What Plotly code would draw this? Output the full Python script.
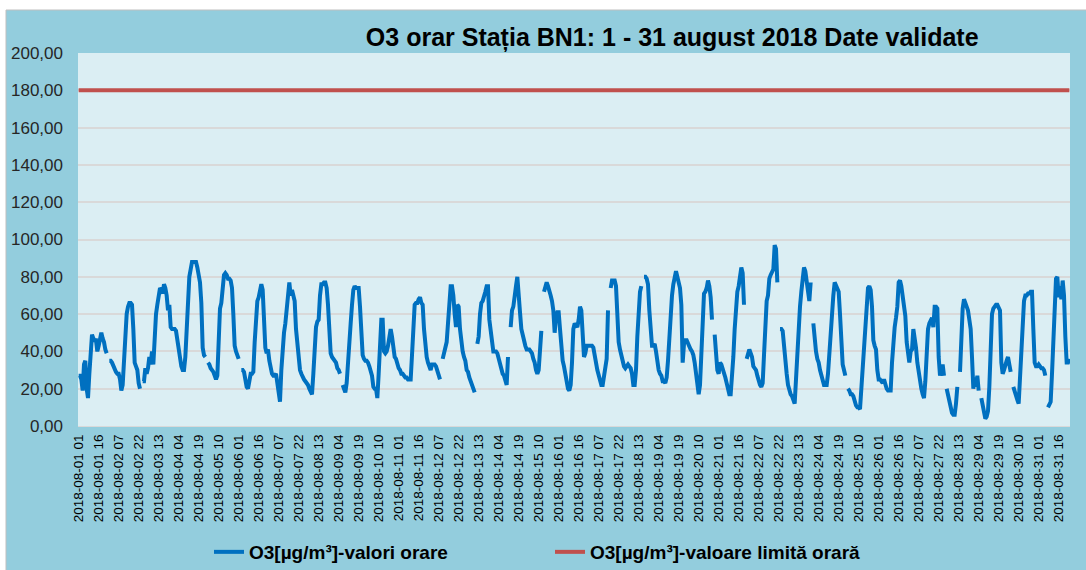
import plotly.graph_objects as go

# Hourly O3 values [µg/m³], one list per day (hours 01..24); None = missing
day01 = [27, 27, 25, 19, 33, 35, 20, 15, 28, 42, 49, 47, 46, 46, 40, 43, 48, 50, 47, 45, 41, 39, None, 35]
day02 = [35, 34, 32, 30, 29, 28, 28, 25, 19, 22, 38, 50, 60, 64, 66, 66, 65, 52, 34, 32, 30, 23, 20, None]
day03 = [24, 24, 31, 28, 31, 37, 33, 40, 33, 48, 60, 65, 72, 74, 73, 71, 76, 74, 70, 62, 65, 53, 52, 52]
day04 = [52, 51, 46, 43, 37, 32, 30, 30, 37, 52, 70, 80, 84, 88, 88, 88, 88, 85, 80, 77, 66, 42, 38, 37]
day05 = [None, 34, 33, 31, 30, 29, 27, 25, 27, 45, 63, 66, 76, 81, 82, 81, 79, 79, 78, 74, 60, 43, 40, 38]
day06 = [36, None, 30, 30, 29, 24, 21, 20, 26, 28, 28, 29, 45, 60, 67, 69, 72, 76, 73, 60, 42, 39, 41, 35]
day07 = [30, 28, 27, 27, 28, 23, 20, 13, 30, 46, 50, 55, 62, 70, 77, 70, 73, 70, 67, 52, 45, 34, 30, 28]
day08 = [26, 25, 24, 23, 22, 20, 18, 17, 28, 45, 53, 56, 57, 70, 76, 76, 77, 77, 74, 65, 45, 39, 37, 36]
day09 = [35, 34, 31, 30, 28, None, 22, 19, 18, 23, 37, 45, 55, 65, 73, 75, 74, 74, 74, 64, 48, 38, 36, 35]
day10 = [35, 34, 32, 30, 27, 21, 20, 20, 15, 28, 45, 57, 57, 40, 39, 40, 43, 48, 52, 48, 40, 37, 36, 32]
day11 = [31, 30, 28, 28, 27, 26, 26, 25, 25, 25, 38, 55, 65, 66, 66, 68, 69, 66, 65, 52, 43, 37, 34, 32]
day12 = [30, 33, 33, 33, 32, 30, 28, 25, None, 36, 40, 44, 45, 55, 68, 75, 75, 70, 60, 53, 65, 64, 52, 45]
day13 = [40, 37, 35, 30, 29, 26, 24, 22, 20, 18, None, 44, 48, 60, 66, 67, 69, 72, 75, 75, 57, 50, 46, 40]
day14 = [40, 40, 39, 36, 34, 30, 28, 27, 25, 22, 37, None, 53, 62, 64, 68, 75, 80, 73, 61, 52, 48, 44, 43]
day15 = [41, 41, 41, 40, 39, 36, 34, 30, 28, 30, 41, 51, None, 72, 75, 77, 75, 73, 70, 67, 62, 50, 59, 61]
day16 = [61, 52, 42, 35, 32, 27, 22, 20, 19, 22, 34, 52, 55, 54, 53, 57, 64, 62, 50, 37, 39, 43, 43, 43]
day17 = [43, 43, 42, 36, 34, 30, 27, 25, 22, 22, 28, 32, 36, 62, None, 74, 78, 78, 78, 75, 55, 45, 41, 37]
day18 = [34, 32, 31, 32, 33, 32, 31, 28, 22, 22, 30, 48, 65, 72, 75, None, 80, 80, 79, 76, 62, 48, 43, 43]
day19 = [44, 40, 34, 30, 28, 27, 24, 24, 23, 26, 35, 48, 60, 70, 76, 80, 83, 80, 77, 74, 65, 34, 44, 46]
day20 = [46, 44, 42, 41, 40, 38, 34, 28, 22, 17, 22, 40, 62, 71, 72, 74, 78, 75, 69, 57, None, 49, 36, 30]
day21 = [28, 34, 33, 31, 29, 26, 23, 20, 17, 17, 25, 37, 52, 66, 72, 75, 82, 85, 82, 65, None, 36, 39, 41]
day22 = [39, 37, 32, 31, 30, 27, 24, 22, 21, 23, 38, 55, 67, 70, 79, 81, 83, 84, 97, 95, 77, None, 52, 52]
day23 = [51, 42, 36, 28, 22, 18, 17, 16, 14, 12, 25, 40, 53, 64, 72, 80, 85, 83, 78, 71, 67, 77, None, 55]
day24 = [46, 40, 36, 34, 30, 27, 24, 22, 22, 22, 28, 40, 50, 60, 70, 77, 75, 73, 72, 60, 42, 33, 30, 27]
day25 = [None, 20, 19, 17, 17, 16, 13, 11, 10, 10, 9, 20, 35, 46, 58, 66, 74, 75, 73, 64, 46, 43, 41, 30]
day26 = [25, 25, 24, 23, 25, 22, 20, 19, 19, 19, 34, 46, 53, 58, 64, 77, 78, 75, 68, 61, 59, 45, 38, 34]
day27 = [40, 41, 52, 48, 42, 34, 28, 23, 20, 17, 15, 24, 40, 52, 55, 57, 58, 53, 64, 64, 63, 37, 27, 30]
day28 = [33, 27, None, 20, 16, 12, 9, 7, 6, 6, 12, 21, None, 29, 50, 63, 68, 66, 65, 62, 57, 52, 37, 20]
day29 = [26, 21, 27, 19, None, 15, 12, 8, 4, 5, 8, 21, 50, 60, 63, 64, 65, 65, 63, 62, 34, 28, 30, 34]
day30 = [35, 37, 34, 29, None, 21, 18, 16, 14, 12, 26, 44, 52, 67, 70, 70, 71, 71, 72, 72, 52, 34, 32, 32]
day31 = [33, 32, 31, 31, 30, 27, None, 10, 12, 13, 28, 46, 64, 79, 80, 69, 75, 68, 78, 70, 48, 34, 34, 36]

days = [day01, day02, day03, day04, day05, day06, day07, day08, day09, day10,
        day11, day12, day13, day14, day15, day16, day17, day18, day19, day20,
        day21, day22, day23, day24, day25, day26, day27, day28, day29, day30, day31]

LIMIT_VALUE = 180  # hourly limit value
TICK_STEP = 15

categories = []
o3_values = []
for d, vals in enumerate(days, start=1):
    for h, v in enumerate(vals, start=1):
        categories.append(f"2018-08-{d:02d} {h:02d}")
        o3_values.append(v)
limit_values = [LIMIT_VALUE] * len(categories)
tick_labels = categories[::TICK_STEP]

FONT = "Liberation Sans, Arial, sans-serif"
fig = go.Figure()
fig.add_trace(go.Scatter(
    x=categories, y=o3_values, mode="lines", connectgaps=False,
    name="<b>O3[µg/m³]-valori orare</b>",
    line=dict(color="#0070C0", width=4),
))
fig.add_trace(go.Scatter(
    x=categories, y=limit_values, mode="lines",
    name="<b>O3[µg/m³]-valoare limită orară</b>",
    line=dict(color="#C0504D", width=4),
))

PW, PH = 992, 373  # plot area size in px
# frame (white strips on the top/left edge)
fig.add_shape(type="rect", xref="paper", yref="paper", x0=-0.09, x1=1.03,
              y0=(426 - 10) / PH, y1=1.2, fillcolor="white", line_width=0, layer="below")
fig.add_shape(type="rect", xref="paper", yref="paper", x0=-0.09, x1=(6 - 78) / PW,
              y0=-0.5, y1=1.2, fillcolor="white", line_width=0, layer="below")
fig.add_shape(type="rect", xref="paper", yref="paper", x0=(6 - 78) / PW, x1=1.03,
              y0=-0.5, y1=(426 - 10) / PH, fillcolor="rgba(0,0,0,0)",
              line=dict(color="#BFBFBF", width=1), layer="below")

fig.update_layout(
    width=1086, height=570,
    margin=dict(l=78, r=16, t=53, b=144, autoexpand=False),
    paper_bgcolor="#93CDDD",
    plot_bgcolor="#DBEEF3",
    separators=",.",
    font=dict(family=FONT, color="#000000"),
    title=dict(
        text="<b>O3 orar Stația BN1: 1 - 31 august 2018 Date validate</b>",
        x=0.619, xanchor="center", xref="container",
        y=1 - 37 / 570, yanchor="middle", yref="container",
        font=dict(size=25, color="#000000", family=FONT),
    ),
    showlegend=True,
    legend=dict(
        orientation="h", x=(209 - 78) / PW, xanchor="left", y=(426 - 552) / PH, yanchor="middle",
        font=dict(size=19, color="#000000", family=FONT),
        bgcolor="rgba(0,0,0,0)", entrywidth=296, itemwidth=30,
    ),
    xaxis=dict(
        type="category", range=[-0.5, len(categories) - 0.5], automargin=False,
        tickmode="array", tickvals=tick_labels, ticktext=tick_labels,
        tickangle=-90, tickfont=dict(size=13.5, color="#000000"),
        showgrid=False, zeroline=False, showline=True, linecolor="#D9D9D9",
        ticks="", ticklabelstandoff=2,
    ),
    yaxis=dict(
        range=[0, 200], dtick=20, tickformat=".2f", automargin=False,
        tickfont=dict(size=17, color="#262626"),
        showgrid=True, gridcolor="#D9D9D9", gridwidth=1.5,
        zeroline=False, showline=False, ticks="", ticklabelstandoff=14,
    ),
)

fig.write_html(
    "out.html",
    config={"displayModeBar": False},
    post_script="document.body.style.margin='0px';document.body.style.overflow='hidden';",
)
